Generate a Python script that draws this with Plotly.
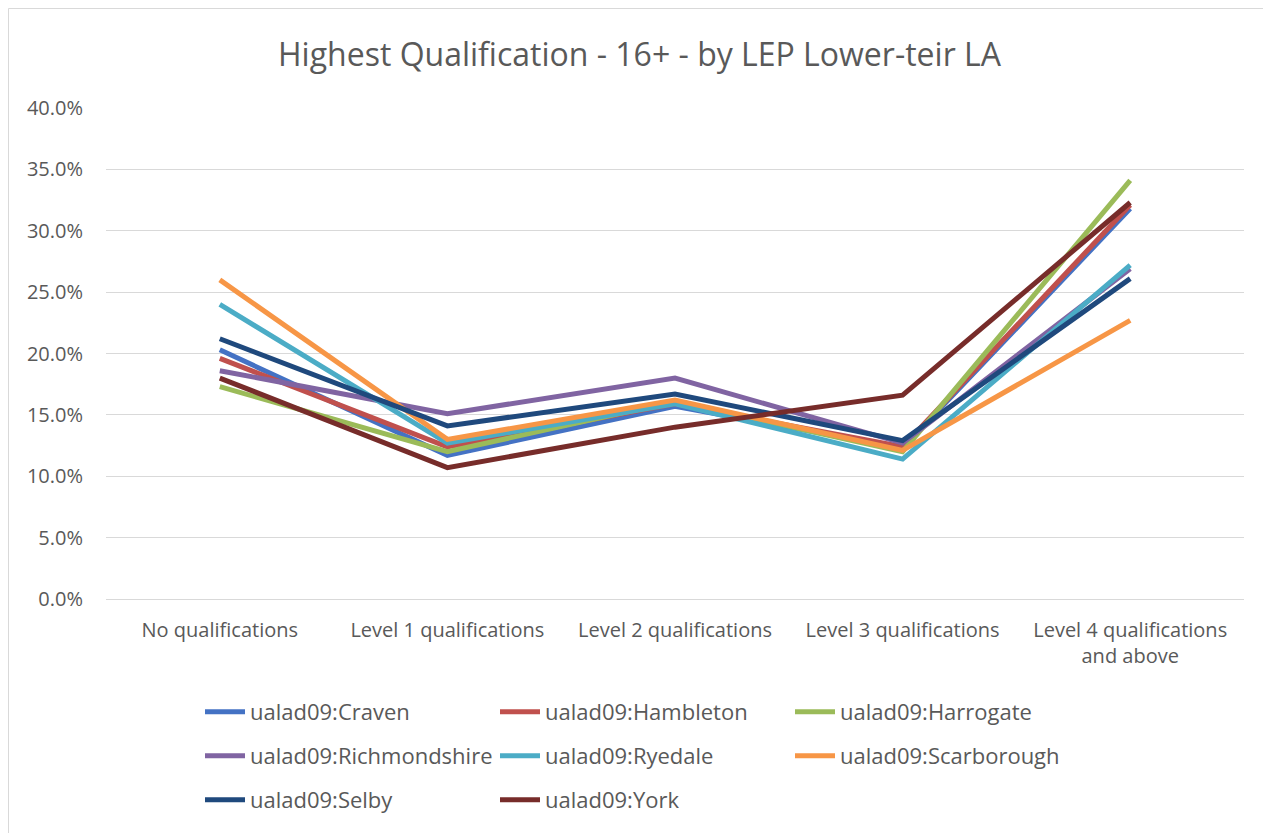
import plotly.graph_objects as go

categories = ["No qualifications", "Level 1 qualifications", "Level 2 qualifications",
              "Level 3 qualifications", "Level 4 qualifications<br>and above"]

craven = [0.203, 0.117, 0.157, 0.123, 0.318]
hambleton = [0.196, 0.124, 0.159, 0.124, 0.321]
harrogate = [0.173, 0.120, 0.161, 0.120, 0.341]
richmondshire = [0.186, 0.151, 0.180, 0.127, 0.269]
ryedale = [0.240, 0.127, 0.159, 0.114, 0.272]
scarborough = [0.260, 0.130, 0.162, 0.121, 0.227]
selby = [0.212, 0.141, 0.167, 0.129, 0.261]
york = [0.180, 0.107, 0.140, 0.166, 0.323]

series = [
    ("ualad09:Craven", craven, "#4472C4"),
    ("ualad09:Hambleton", hambleton, "#C0504D"),
    ("ualad09:Harrogate", harrogate, "#9BBB59"),
    ("ualad09:Richmondshire", richmondshire, "#8064A2"),
    ("ualad09:Ryedale", ryedale, "#4BACC6"),
    ("ualad09:Scarborough", scarborough, "#F79646"),
    ("ualad09:Selby", selby, "#1F497D"),
    ("ualad09:York", york, "#772C2A"),
]

# the page has an 8px body margin, so the figure is 8px smaller than the window
W, H = 1263, 825
L, R, T, B = 98, 27, 100, 234
pw, ph = W - L - R, H - T - B

legends = ["legend", "legend2", "legend3"]

fig = go.Figure()
for i, (name, vals, col) in enumerate(series):
    fig.add_trace(go.Scatter(x=categories, y=vals, mode="lines", name=name,
                             line=dict(color=col, width=5),
                             legend=legends[i // 3]))

grey = "#595959"
leg_common = dict(orientation="h", x=(192 - L) / pw, xanchor="left", yanchor="middle",
                  entrywidth=240, entrywidthmode="pixels", itemwidth=40,
                  font=dict(size=22, color=grey), bgcolor="rgba(0,0,0,0)")
row_y = [704, 748, 792]

fig.update_layout(
    width=W, height=H,
    paper_bgcolor="white", plot_bgcolor="white",
    margin=dict(l=L, r=R, t=T, b=B, autoexpand=False),
    font=dict(family="Open Sans, Liberation Sans, sans-serif", color=grey, size=20),
    title=dict(text="Highest Qualification - 16+ - by LEP Lower-teir LA",
               x=0.5, xanchor="center", y=1 - 47 / H, yanchor="middle",
               font=dict(size=32, color=grey)),
    xaxis=dict(showgrid=False, showline=False, ticks="", range=[-0.5, 4.5],
               ticklabelstandoff=17, tickfont=dict(size=20, color=grey)),
    yaxis=dict(range=[0, 0.40], dtick=0.05, tickformat=".1%", gridcolor="#d9d9d9",
               gridwidth=1, zeroline=True, zerolinecolor="#d9d9d9", zerolinewidth=1,
               tickfont=dict(size=20, color=grey), ticks="", ticklabelstandoff=22),
    showlegend=True,
    legend=dict(leg_common, y=(T + ph - row_y[0]) / ph),
    legend2=dict(leg_common, y=(T + ph - row_y[1]) / ph),
    legend3=dict(leg_common, y=(T + ph - row_y[2]) / ph),
    shapes=[dict(type="rect", xref="paper", yref="paper",
                 x0=-(L - 0.5) / pw, x1=1 + (R + 10) / pw, y0=-(B + 10) / ph, y1=1 + (T - 0.5) / ph,
                 line=dict(color="#d9d9d9", width=1))],
)

fig.write_html("out.html")
